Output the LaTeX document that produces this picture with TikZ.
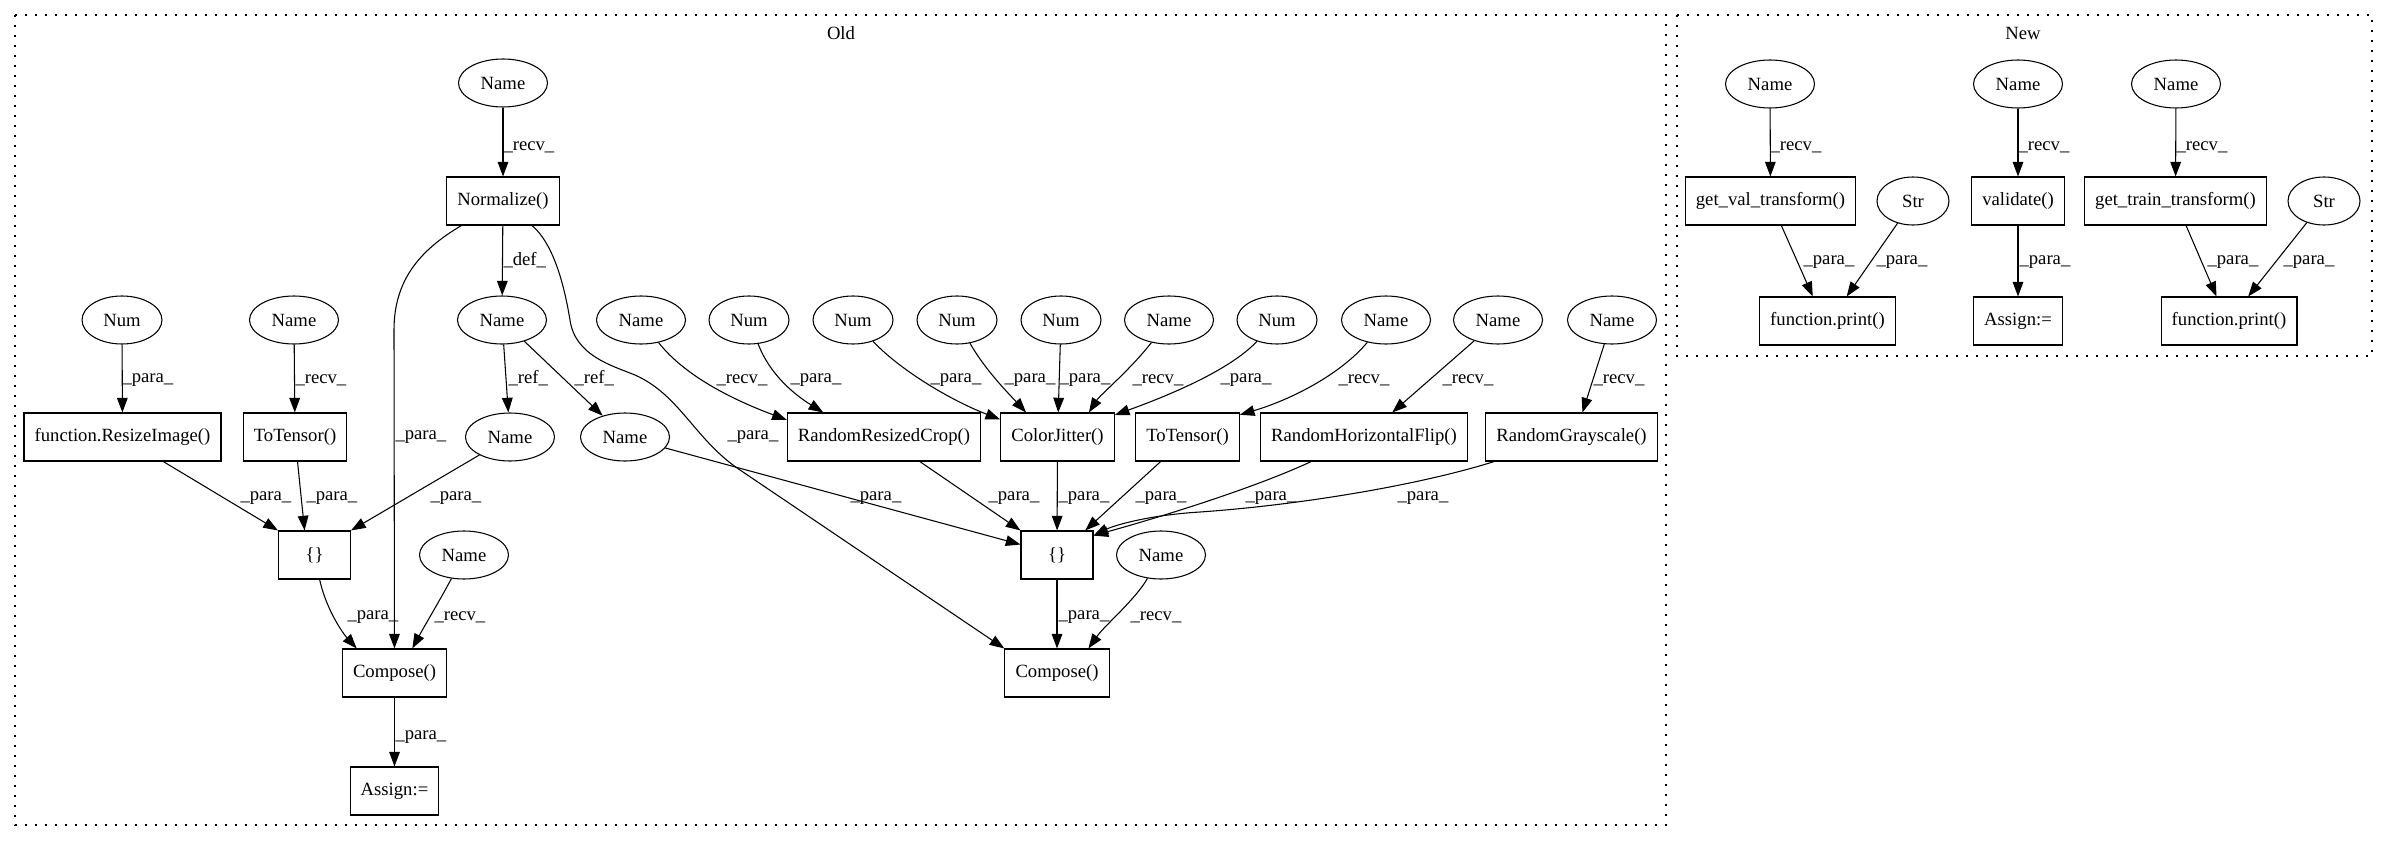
\documentclass[tikz,border=0pt]{standalone}
\usepackage{fontspec}
\setmainfont{Liberation Serif}
\usetikzlibrary{shapes.geometric, arrows.meta}
\tikzset{
    font=\fontsize{14pt}{16pt}\selectfont,
    >={Triangle[length=11pt, width=8pt]},
    % Shapes
    box/.style={rectangle, draw, line width=0.8pt, minimum height=36pt, minimum width=54pt,
                inner xsep=8pt, inner ysep=0pt},
    oval/.style={ellipse, draw, line width=0.8pt, minimum height=36pt, inner sep=0pt},
    nameNode/.style={oval, minimum width=66.75pt},
    numNode/.style={oval, minimum width=60pt},
    strNode/.style={oval, minimum width=54pt},
    cluster/.style={draw, line width=1pt, dash pattern=on 1.2pt off 6.3pt},
    % Flow & Labels
    flow/.style={->, line width=0.8pt},
    lbl/.style={anchor=west, inner sep=0pt}
}

\begin{document}
\begin{tikzpicture}[x=0.75pt, y=-0.75pt]
\useasboundingbox (0,0) rectangle (2388,842);

% Old
\draw[cluster] (15,15) rectangle (1666,825);
\node (ttlOld) at (841,33) {Old};

\node[nameNode] (nmTop) at (503,83) {Name};
\node[box] (norm) at (503,201) {Normalize()};

\node[numNode] (n1) at (122,320) {Num};
\node[nameNode] (n2) at (294,320) {Name};
\node[nameNode] (nmDef) at (502,320) {Name};
\node[nameNode] (n3) at (641,320) {Name};
\node[numNode] (n4) at (749,320) {Num};
\node[numNode] (n5) at (853,320) {Num};
\node[numNode] (n6) at (957,320) {Num};
\node[numNode] (n7) at (1061,320) {Num};
\node[nameNode] (n8) at (1169,320) {Name};
\node[numNode] (n9) at (1277,320) {Num};
\node[nameNode] (n10) at (1386,320) {Name};
\node[nameNode] (n11) at (1498,320) {Name};
\node[nameNode] (n12) at (1612,320) {Name};

\node[box] (rsz) at (122.5,437) {function.ResizeImage()};
\node[box] (tt1) at (295,437) {ToTensor()};
\node[nameNode] (ref1) at (510,437) {Name};
\node[nameNode] (ref2) at (625,437) {Name};
\node[box] (rrc) at (884,437) {RandomResizedCrop()};
\node[box] (cj) at (1057.5,437) {ColorJitter()};
\node[box] (tt2) at (1187.5,437) {ToTensor()};
\node[box] (rhf) at (1364,437) {RandomHorizontalFlip()};
\node[box] (rg) at (1571.5,437) {RandomGrayscale()};

\node[box] (set1) at (314.5,555) {\{\}};
\node[nameNode] (nmB) at (464,555) {Name};
\node[box] (set2) at (1057,555) {\{\}};
\node[nameNode] (nmD) at (1161,555) {Name};

\node[box] (cmp1) at (394.5,673) {Compose()};
\node[box] (cmp2) at (1057,673) {Compose()};
\node[box] (asg1) at (394.5,791) {Assign:=};

\draw[flow] (nmTop) -- (norm) node[lbl] at (503,147) {\_recv\_};
\draw[flow] (norm) -- (nmDef) node[lbl] at (503,260) {\_def\_};
\draw[flow] (norm) .. controls (420,250) and (394,280) .. (394,330) -- (cmp1)
    node[lbl] at (395,437) {\_para\_};
\draw[flow] (norm) .. controls (555,245) and (565,290) .. (570,320)
    .. controls (575,355) and (610,365) .. (635,375)
    .. controls (680,395) and (695,440) .. (740,470) -- (cmp2.north west)
    node[lbl] at (727,437) {\_para\_};

\draw[flow] (nmDef) -- (ref1) node[lbl] at (508,378) {\_ref\_};
\draw[flow] (nmDef) -- (ref2) node[lbl] at (574,378) {\_ref\_};
\draw[flow] (n1) -- (rsz) node[lbl] at (122,380) {\_para\_};
\draw[flow] (n2) -- (tt1) node[lbl] at (295,380) {\_recv\_};
\draw[flow] (rsz) -- (set1.north west) node[lbl] at (240,498) {\_para\_};
\draw[flow] (tt1) -- (set1.112) node[lbl] at (306,498) {\_para\_};
\draw[flow] (ref1) -- (set1.north east) node[lbl] at (430,498) {\_para\_};
\draw[flow] (set1) .. controls (325,605) and (340,630) .. (cmp1.147) node[lbl] at (347,617) {\_para\_};
\draw[flow] (nmB) .. controls (440,600) and (425,625) .. (cmp1.54) node[lbl] at (434,617) {\_recv\_};
\draw[flow] (cmp1) -- (asg1) node[lbl] at (395,737) {\_para\_};

\draw[flow] (n3) .. controls (680,370) and (720,395) .. (rrc.170) node[lbl] at (716,380) {\_recv\_};
\draw[flow] (n4) .. controls (770,375) and (795,395) .. (rrc.158) node[lbl] at (790,380) {\_para\_};
\draw[flow] (n5) .. controls (900,370) and (950,400) .. (cj.163) node[lbl] at (930,380) {\_para\_};
\draw[flow] (n6) .. controls (985,370) and (1010,395) .. (cj.142) node[lbl] at (1004,380) {\_para\_};
\draw[flow] (n7) -- (cj) node[lbl] at (1059,380) {\_para\_};
\draw[flow] (n8) .. controls (1130,370) and (1100,395) .. (cj.38) node[lbl] at (1132,380) {\_recv\_};
\draw[flow] (n9) .. controls (1230,370) and (1170,395) .. (cj.21) node[lbl] at (1220,380) {\_para\_};
\draw[flow] (n10) .. controls (1340,375) and (1290,400) .. (tt2.23) node[lbl] at (1338,380) {\_recv\_};
\draw[flow] (n11) -- (rhf.41) node[lbl] at (1442,380) {\_recv\_};
\draw[flow] (n12) -- (rg.66) node[lbl] at (1593,380) {\_recv\_};

\draw[flow] (ref2) -- (set2.164) node[lbl] at (850,498) {\_para\_};
\draw[flow] (rrc) -- (set2.north west) node[lbl] at (988,498) {\_para\_};
\draw[flow] (cj) -- (set2) node[lbl] at (1058,498) {\_para\_};
\draw[flow] (tt2) -- (set2.41) node[lbl] at (1135,498) {\_para\_};
\draw[flow] (rhf) .. controls (1250,490) and (1150,520) .. (set2.28) node[lbl] at (1245,498) {\_para\_};
\draw[flow] (rg) .. controls (1420,485) and (1300,505) .. (1200,512)
    .. controls (1150,515) and (1115,525) .. (set2.28) node[lbl] at (1397,498) {\_para\_};
\draw[flow] (set2) -- (cmp2) node[lbl] at (1058,617) {\_para\_};
\draw[flow] (nmD) .. controls (1135,600) and (1105,625) .. (cmp2.38) node[lbl] at (1130,617) {\_recv\_};

% New
\draw[cluster] (1677,15) rectangle (2372,356);
\node (ttlNew) at (2023,33) {New};

\node[nameNode] (v1) at (1770,84) {Name};
\node[nameNode] (v2) at (2018,84) {Name};
\node[nameNode] (v3) at (2176,84) {Name};
\node[box] (gvt) at (1770.5,201) {get\_val\_transform()};
\node[strNode] (strA) at (1913,201) {Str};
\node[box] (val) at (2018,201) {validate()};
\node[box] (gtt) at (2175.5,201) {get\_train\_transform()};
\node[strNode] (strB) at (2324,201) {Str};
\node[box] (pr1) at (1827.5,321) {function.print()};
\node[box] (asg2) at (2018,321) {Assign:=};
\node[box] (pr2) at (2229,321) {function.print()};

\draw[flow] (v1) -- (gvt) node[lbl] at (1770,147) {\_recv\_};
\draw[flow] (v2) -- (val) node[lbl] at (2018,147) {\_recv\_};
\draw[flow] (v3) -- (gtt) node[lbl] at (2176,147) {\_recv\_};
\draw[flow] (gvt) -- (pr1.121) node[lbl] at (1803,262) {\_para\_};
\draw[flow] (strA) -- (pr1.52) node[lbl] at (1876,262) {\_para\_};
\draw[flow] (val) -- (asg2) node[lbl] at (2019,262) {\_para\_};
\draw[flow] (gtt) -- (pr2.117) node[lbl] at (2207,262) {\_para\_};
\draw[flow] (strB) -- (pr2.52) node[lbl] at (2283,262) {\_para\_};

\end{tikzpicture}
\end{document}
